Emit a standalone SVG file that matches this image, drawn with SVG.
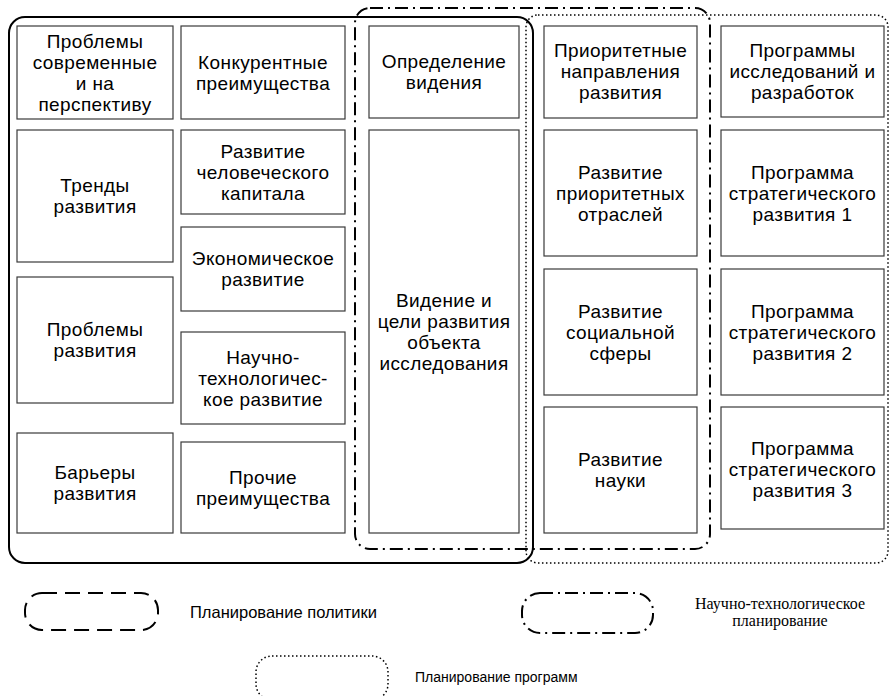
<svg xmlns="http://www.w3.org/2000/svg" width="890" height="696" viewBox="0 0 890 696">
<style>
  .box { fill: #ffffff; stroke: #3a3a3a; stroke-width: 1.2; }
  .t { font-family: "Liberation Sans", Arial, sans-serif; font-size: 19px; letter-spacing: 0.4px; fill: #000; text-anchor: middle; }
  .solid { fill: none; stroke: #000; stroke-width: 2; }
  .dashdot { fill: none; stroke: #000; stroke-width: 2; stroke-dasharray: 13 5 2 5; }
  .dotted { fill: none; stroke: #000; stroke-width: 1.5; stroke-dasharray: 1.5 2.5; }
  .dashed { fill: none; stroke: #000; stroke-width: 2; stroke-dasharray: 15 8; }
  .lg { font-family: "Liberation Sans", Arial, sans-serif; font-size: 16.5px; fill: #000; }
  .lg2 { font-family: "Liberation Sans", Arial, sans-serif; font-size: 14px; fill: #000; }
  .lgs { font-family: "Liberation Serif", "Times New Roman", serif; font-size: 16px; fill: #000; text-anchor: middle; }
</style>
<rect width="890" height="696" fill="#ffffff"/>

<g id="areas">
  <rect class="solid" x="9" y="17" width="524" height="546" rx="16"/>
  <rect class="dashdot" x="355" y="8" width="355" height="541" rx="15"/>
  <rect class="dotted" x="526" y="15" width="362" height="548" rx="12"/>
</g>

<g id="n1"><rect class="box" x="17" y="26" width="156" height="93"/>
  <text class="t" x="95" y="47.5">Проблемы<tspan x="95" dy="21">современные</tspan><tspan x="95" dy="21">и на</tspan><tspan x="95" dy="21">перспективу</tspan></text></g>
<g id="n2"><rect class="box" x="17" y="130" width="156" height="132"/>
  <text class="t" x="95" y="192">Тренды<tspan x="95" dy="21">развития</tspan></text></g>
<g id="n3"><rect class="box" x="17" y="277" width="156" height="126"/>
  <text class="t" x="95" y="336">Проблемы<tspan x="95" dy="21">развития</tspan></text></g>
<g id="n4"><rect class="box" x="17" y="433" width="156" height="100"/>
  <text class="t" x="95" y="479">Барьеры<tspan x="95" dy="21">развития</tspan></text></g>

<g id="n5"><rect class="box" x="181" y="26" width="164" height="93"/>
  <text class="t" x="263" y="68.5">Конкурентные<tspan x="263" dy="21">преимущества</tspan></text></g>
<g id="n6"><rect class="box" x="181" y="130" width="164" height="84"/>
  <text class="t" x="263" y="157.5">Развитие<tspan x="263" dy="21">человеческого</tspan><tspan x="263" dy="21">капитала</tspan></text></g>
<g id="n7"><rect class="box" x="181" y="227" width="164" height="84"/>
  <text class="t" x="263" y="265">Экономическое<tspan x="263" dy="21">развитие</tspan></text></g>
<g id="n8"><rect class="box" x="181" y="332" width="164" height="92"/>
  <text class="t" x="263" y="363.5">Научно-<tspan x="263" dy="21">технологичес-</tspan><tspan x="263" dy="21">кое развитие</tspan></text></g>
<g id="n9"><rect class="box" x="181" y="442" width="164" height="91"/>
  <text class="t" x="263" y="483.5">Прочие<tspan x="263" dy="21">преимущества</tspan></text></g>

<g id="n10"><rect class="box" x="369" y="26" width="150" height="92"/>
  <text class="t" x="444" y="68">Определение<tspan x="444" dy="21">видения</tspan></text></g>
<g id="n11"><rect class="box" x="369" y="130" width="150" height="403"/>
  <text class="t" x="444" y="306.5">Видение и<tspan x="444" dy="21">цели развития</tspan><tspan x="444" dy="21">объекта</tspan><tspan x="444" dy="21">исследования</tspan></text></g>

<g id="n12"><rect class="box" x="544" y="26" width="153" height="92"/>
  <text class="t" x="620.5" y="57">Приоритетные<tspan x="620.5" dy="21">направления</tspan><tspan x="620.5" dy="21">развития</tspan></text></g>
<g id="n13"><rect class="box" x="544" y="130" width="153" height="126"/>
  <text class="t" x="620.5" y="178.5">Развитие<tspan x="620.5" dy="21">приоритетных</tspan><tspan x="620.5" dy="21">отраслей</tspan></text></g>
<g id="n14"><rect class="box" x="544" y="269" width="153" height="126"/>
  <text class="t" x="620.5" y="317.5">Развитие<tspan x="620.5" dy="21">социальной</tspan><tspan x="620.5" dy="21">сферы</tspan></text></g>
<g id="n15"><rect class="box" x="544" y="407" width="153" height="126"/>
  <text class="t" x="620.5" y="466">Развитие<tspan x="620.5" dy="21">науки</tspan></text></g>

<g id="n16"><rect class="box" x="721" y="26" width="163" height="91"/>
  <text class="t" x="802.5" y="57">Программы<tspan x="802.5" dy="21">исследований и</tspan><tspan x="802.5" dy="21">разработок</tspan></text></g>
<g id="n17"><rect class="box" x="721" y="130" width="163" height="126"/>
  <text class="t" x="802.5" y="178.5">Программа<tspan x="802.5" dy="21">стратегического</tspan><tspan x="802.5" dy="21">развития 1</tspan></text></g>
<g id="n18"><rect class="box" x="721" y="269" width="163" height="126"/>
  <text class="t" x="802.5" y="317.5">Программа<tspan x="802.5" dy="21">стратегического</tspan><tspan x="802.5" dy="21">развития 2</tspan></text></g>
<g id="n19"><rect class="box" x="721" y="407" width="163" height="122"/>
  <text class="t" x="802.5" y="454.5">Программа<tspan x="802.5" dy="21">стратегического</tspan><tspan x="802.5" dy="21">развития 3</tspan></text></g>

<g id="connectors"></g>

<g id="legend">
  <rect class="dashed" x="25" y="593" width="133" height="37" rx="17"/>
  <text class="lg" x="190" y="618">Планирование политики</text>
  <rect class="dashdot" x="522" y="593" width="131" height="40" rx="18"/>
  <text class="lgs" x="780" y="609">Научно-технологическое<tspan x="780" dy="17">планирование</tspan></text>
  <rect class="dotted" x="256" y="656" width="132" height="44" rx="16"/>
  <text class="lg2" x="415" y="682">Планирование программ</text>
</g>
</svg>
